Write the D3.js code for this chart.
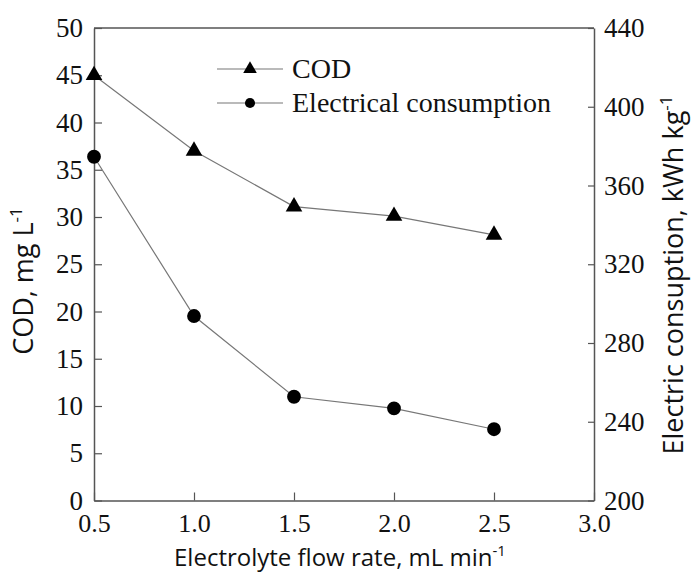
<!DOCTYPE html>
<html>
<head>
<meta charset="utf-8">
<script src="https://cdn.jsdelivr.net/npm/d3@7"></script>
<style>
  body { margin: 0; background: #fff; }
  svg { display: block; }
</style>
</head>
<body>
<div id="chart"></div>
<script>
// flow rate, mL/min
var flowRates = [0.5, 1.0, 1.5, 2.0, 2.5];
// COD, mg/L (left axis)
var codValues = [45.0, 37.0, 31.1, 30.1, 28.1];
// electrical consumption, kWh/kg (right axis)
var energyValues = [374.6, 293.7, 252.7, 246.8, 236.2];

var xTicks = [0.5, 1.0, 1.5, 2.0, 2.5, 3.0];
var leftTicks = [0, 5, 10, 15, 20, 25, 30, 35, 40, 45, 50];
var rightTicks = [200, 240, 280, 320, 360, 400, 440];

var W = 691, H = 574;
var mLeft = 94, mRight = 594, mTop = 28, mBottom = 500.5;

var svg = d3.select("#chart").append("svg").attr("width", W).attr("height", H);

var x = d3.scaleLinear().domain([0.5, 3.0]).range([mLeft, mRight]);
var yL = d3.scaleLinear().domain([0, 50]).range([mBottom, mTop]);
var yR = d3.scaleLinear().domain([200, 440]).range([mBottom, mTop]);

var axisColor = "#555";
var serif = "'Liberation Serif', 'Times New Roman', serif";
var sans = "'Open Sans', 'Noto Sans', sans-serif";

// frame top line
svg.append("line").attr("x1", mLeft).attr("x2", mRight).attr("y1", mTop).attr("y2", mTop)
  .attr("stroke", axisColor).attr("stroke-width", 1.5);

// axes, ticks point inward
var xAxis = svg.append("g").attr("transform", "translate(0," + mBottom + ")")
  .call(d3.axisBottom(x).tickValues(xTicks).tickFormat(d3.format(".1f")).tickSizeInner(-8).tickSizeOuter(0).tickPadding(13));
var lAxis = svg.append("g").attr("transform", "translate(" + mLeft + ",0)")
  .call(d3.axisLeft(yL).tickValues(leftTicks).tickSizeInner(-8).tickSizeOuter(0).tickPadding(11));
var rAxis = svg.append("g").attr("transform", "translate(" + mRight + ",0)")
  .call(d3.axisRight(yR).tickValues(rightTicks).tickSizeInner(-6).tickSizeOuter(0).tickPadding(10));

[xAxis, lAxis, rAxis].forEach(function(a) {
  a.select(".domain").attr("stroke", axisColor).attr("stroke-width", 1.5);
  a.selectAll(".tick line").attr("stroke", axisColor).attr("stroke-width", 1.2);
  a.selectAll(".tick text").attr("font-family", serif).attr("font-size", 27).attr("fill", "#111");
});
xAxis.selectAll(".tick text").attr("font-size", 26);

// series lines
var codLine = d3.line().x(function(d, i) { return x(flowRates[i]); }).y(function(d) { return yL(d); });
var enLine = d3.line().x(function(d, i) { return x(flowRates[i]); }).y(function(d) { return yR(d); });

svg.append("path").datum(codValues).attr("d", codLine)
  .attr("fill", "none").attr("stroke", "#777").attr("stroke-width", 1.2);
svg.append("path").datum(energyValues).attr("d", enLine)
  .attr("fill", "none").attr("stroke", "#777").attr("stroke-width", 1.2);

var tri = d3.symbol().type(d3.symbolTriangle).size(120);
var circ = d3.symbol().type(d3.symbolCircle).size(150);

svg.selectAll(".cod").data(codValues).enter().append("path")
  .attr("d", tri)
  .attr("transform", function(d, i) { return "translate(" + x(flowRates[i]) + "," + yL(d) + ")"; })
  .attr("fill", "#000");
svg.selectAll(".en").data(energyValues).enter().append("path")
  .attr("d", circ)
  .attr("transform", function(d, i) { return "translate(" + x(flowRates[i]) + "," + yR(d) + ")"; })
  .attr("fill", "#000");

// legend
var legend = svg.append("g");
var items = [
  {label: "COD", sym: d3.symbol().type(d3.symbolTriangle).size(80), y: 69},
  {label: "Electrical consumption", sym: d3.symbol().type(d3.symbolCircle).size(80), y: 103}
];
items.forEach(function(it) {
  legend.append("line").attr("x1", 217).attr("x2", 283).attr("y1", it.y).attr("y2", it.y)
    .attr("stroke", "#777").attr("stroke-width", 1.2);
  legend.append("path").attr("d", it.sym()).attr("transform", "translate(250," + it.y + ")").attr("fill", "#000");
  legend.append("text").attr("x", 292).attr("y", it.y + 9).attr("font-family", serif)
    .attr("font-size", 28).attr("fill", "#111").text(it.label);
});

// axis titles
var xt = svg.append("text").attr("x", 340).attr("y", 566).attr("text-anchor", "middle")
  .attr("font-family", sans).attr("font-size", 24).attr("fill", "#111");
xt.append("tspan").text("Electrolyte flow rate, mL min");
xt.append("tspan").attr("font-size", 15).attr("dy", -10).text("-1");

var lt = svg.append("text").attr("transform", "translate(33,281) rotate(-90)").attr("text-anchor", "middle")
  .attr("font-family", sans).attr("font-size", 27).attr("fill", "#111");
lt.append("tspan").text("COD, mg L");
lt.append("tspan").attr("font-size", 17).attr("dy", -11).text("-1");

var rt = svg.append("text").attr("transform", "translate(683,275) rotate(-90)").attr("text-anchor", "middle")
  .attr("font-family", sans).attr("font-size", 27).attr("fill", "#111");
rt.append("tspan").text("Electric consuption, kWh kg");
rt.append("tspan").attr("font-size", 17).attr("dy", -11).text("-1");
</script>
</body>
</html>
